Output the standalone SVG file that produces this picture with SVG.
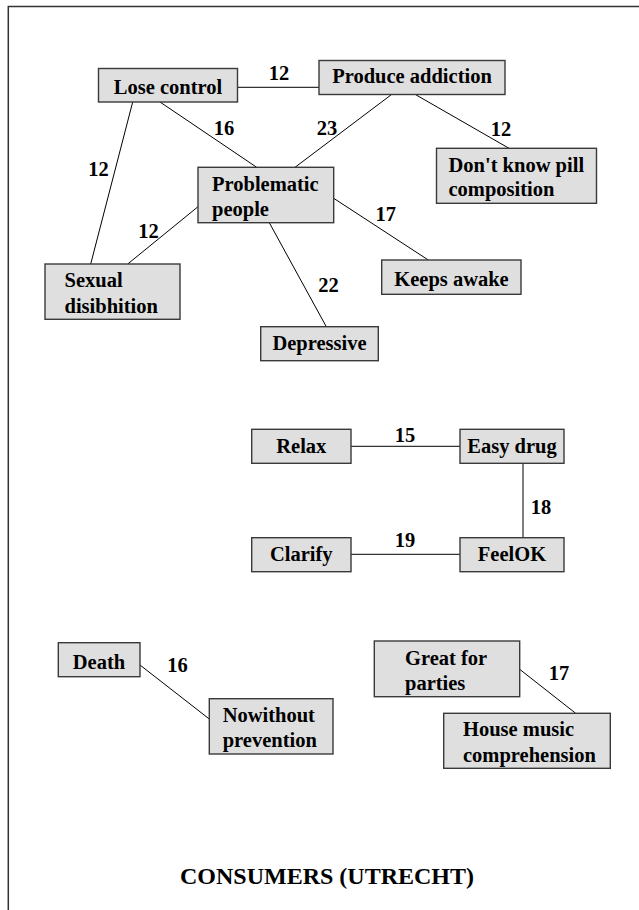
<svg xmlns="http://www.w3.org/2000/svg" width="639" height="910" viewBox="0 0 639 910">
<style>
.box{fill:#dfdfdf;stroke:#3a3a3a;stroke-width:1.4}
.t{font-family:"Liberation Serif","Times New Roman",serif;font-weight:bold;font-size:20.5px;fill:#000}
.c{text-anchor:middle}
.lbl{font-family:"Liberation Serif","Times New Roman",serif;font-weight:bold;font-size:20.5px;fill:#000;text-anchor:middle}
.e{stroke:#000;stroke-width:1;fill:none}
.frame{stroke:#333;stroke-width:1.5;fill:none}
</style>
<rect x="0" y="0" width="639" height="910" fill="#fff"/>
<path class="frame" d="M8.3,910 V6.5 H639"/>
<g id="connectors">
<line class="e" x1="237.7" y1="87.3" x2="319" y2="87.3"/>
<line class="e" x1="160" y1="102" x2="256.7" y2="167.3"/>
<line class="e" x1="391.3" y1="94.7" x2="295" y2="167.3"/>
<line class="e" x1="415.7" y1="94.7" x2="509" y2="148.3"/>
<line class="e" x1="132.7" y1="102" x2="90.7" y2="264"/>
<line class="e" x1="198" y1="206.7" x2="127.7" y2="264"/>
<line class="e" x1="333.7" y1="198.3" x2="428.3" y2="260"/>
<line class="e" x1="269.3" y1="222.7" x2="326.3" y2="326.7"/>
<line class="e" x1="351" y1="446.3" x2="460" y2="446.3"/>
<line class="e" x1="523" y1="463.3" x2="523" y2="537.7"/>
<line class="e" x1="351" y1="554.3" x2="460" y2="554.3"/>
<line class="e" x1="140" y1="665" x2="209.3" y2="719"/>
<line class="e" x1="519.7" y1="669.3" x2="575.7" y2="713.3"/>
<text class="lbl" x="279" y="80">12</text>
<text class="lbl" x="224" y="135">16</text>
<text class="lbl" x="327" y="135">23</text>
<text class="lbl" x="501" y="136">12</text>
<text class="lbl" x="98.5" y="175.7">12</text>
<text class="lbl" x="148.5" y="237.7">12</text>
<text class="lbl" x="385.7" y="221">17</text>
<text class="lbl" x="328.5" y="291.7">22</text>
<text class="lbl" x="405" y="441.7">15</text>
<text class="lbl" x="541" y="514">18</text>
<text class="lbl" x="405" y="546.7">19</text>
<text class="lbl" x="177.5" y="672.3">16</text>
<text class="lbl" x="559" y="680">17</text>
</g>
<g id="lose-control"><rect class="box" x="98.5" y="68.5" width="139" height="33.5"/><text class="t c" x="168" y="94">Lose control</text></g>
<g id="produce-addiction"><rect class="box" x="319" y="60.5" width="186" height="34"/><text class="t c" x="412" y="83">Produce addiction</text></g>
<g id="dont-know"><rect class="box" x="436.5" y="148.3" width="160" height="55"/><text class="t" x="448.5" y="171.5">Don't know pill</text><text class="t" x="448.5" y="195.5">composition</text></g>
<g id="problematic-people"><rect class="box" x="198" y="167.3" width="135.7" height="55.4"/><text class="t" x="212" y="190.5">Problematic</text><text class="t" x="212" y="215.5">people</text></g>
<g id="sexual-disibhition"><rect class="box" x="45" y="264" width="135" height="55.3"/><text class="t" x="64.5" y="287">Sexual</text><text class="t" x="64.5" y="312.5">disibhition</text></g>
<g id="keeps-awake"><rect class="box" x="381.7" y="260" width="139.3" height="34.3"/><text class="t c" x="451.5" y="286">Keeps awake</text></g>
<g id="depressive"><rect class="box" x="260.7" y="326.7" width="117.6" height="34"/><text class="t c" x="319.5" y="349.5">Depressive</text></g>
<g id="relax"><rect class="box" x="251.7" y="429.3" width="99.3" height="34"/><text class="t c" x="301.3" y="453">Relax</text></g>
<g id="easy-drug"><rect class="box" x="460" y="429.3" width="104" height="34"/><text class="t c" x="512" y="453">Easy drug</text></g>
<g id="clarify"><rect class="box" x="251.7" y="537.7" width="99.3" height="34"/><text class="t c" x="301.3" y="561">Clarify</text></g>
<g id="feelok"><rect class="box" x="460" y="537.7" width="104" height="34"/><text class="t c" x="512" y="561">FeelOK</text></g>
<g id="death"><rect class="box" x="58.3" y="642.7" width="81.7" height="34"/><text class="t c" x="99" y="669">Death</text></g>
<g id="nowithout-prevention"><rect class="box" x="209.3" y="698.7" width="123.7" height="55.3"/><text class="t" x="222.7" y="722">Nowithout</text><text class="t" x="222.7" y="746.5">prevention</text></g>
<g id="great-for-parties"><rect class="box" x="374.3" y="641" width="145.4" height="55.7"/><text class="t" x="405" y="664.5">Great for</text><text class="t" x="405" y="690">parties</text></g>
<g id="house-music"><rect class="box" x="443.7" y="713.3" width="166.6" height="55"/><text class="t" x="463" y="736">House music</text><text class="t" x="463" y="761.5">comprehension</text></g>
<text x="327" y="884" style="font-family:'Liberation Serif','Times New Roman',serif;font-weight:bold;font-size:24px;text-anchor:middle">CONSUMERS (UTRECHT)</text>
</svg>
